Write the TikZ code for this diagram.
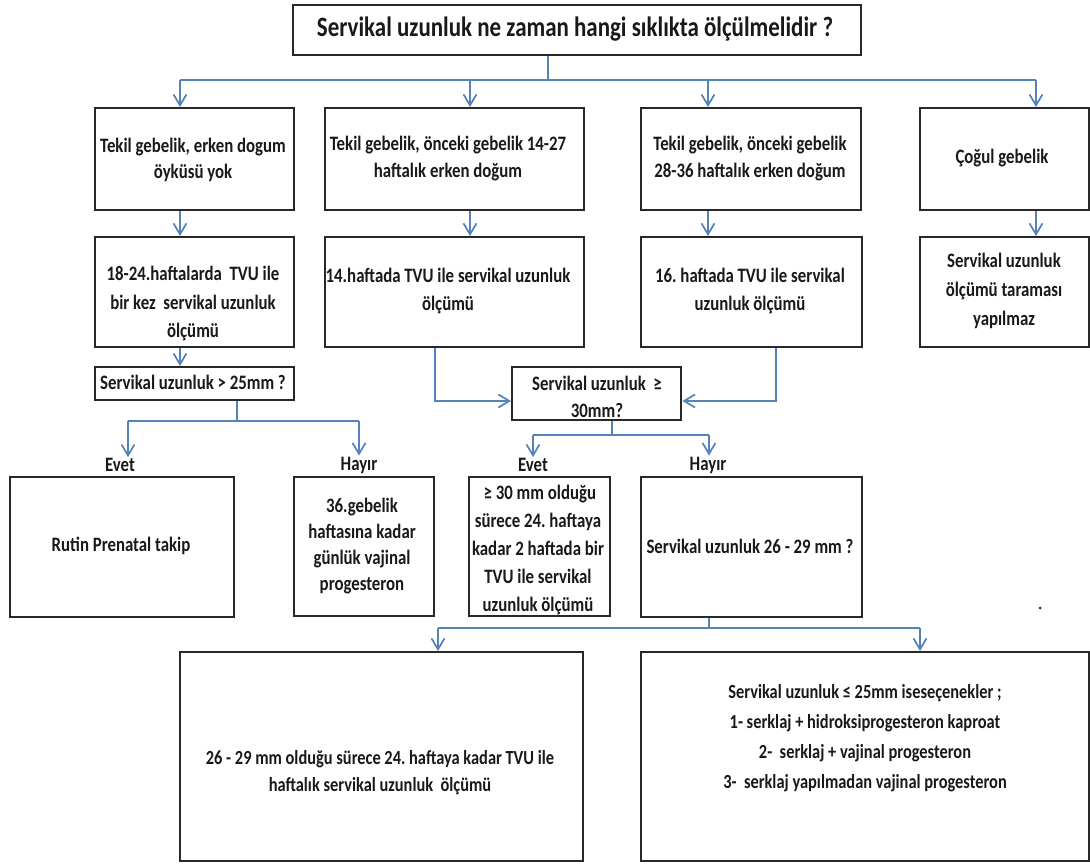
\documentclass[tikz,border=0pt]{standalone}
\usepackage{fontspec}
\setmainfont{Carlito}[FakeStretch=0.82]
\usetikzlibrary{arrows.meta}
\frenchspacing
\definecolor{boxc}{RGB}{40,40,40}
\definecolor{arrc}{RGB}{84,130,185}
\tikzset{
  box/.style={draw=boxc, line width=2.4pt, anchor=north west, inner sep=0pt},
  txt/.style={font=\bfseries\fontsize{20.5}{28}\selectfont, align=center, inner sep=0pt, text=black!90},
  lbl/.style={font=\bfseries\fontsize{20.5}{24}\selectfont, inner sep=1pt, text=black!90},
  ln/.style={draw=arrc, line width=1.7pt},
  arr/.style={ln, -{Straight Barb[length=11pt,width=13pt,line width=1.7pt]}},
}
\begin{document}
\begin{tikzpicture}[x=1pt,y=-1pt]
\useasboundingbox[fill=white] (0,0) rectangle (1090,863);

% boxes
\node[box, minimum width=568pt, minimum height=50pt] (T) at (292,4) {};
\node[box, minimum width=199pt, minimum height=102pt] (A) at (94,107) {};
\node[box, minimum width=259pt, minimum height=102pt] (B) at (324,107) {};
\node[box, minimum width=220pt, minimum height=102pt] (C) at (640,107) {};
\node[box, minimum width=169pt, minimum height=102pt] (D) at (919,107) {};
\node[box, minimum width=199pt, minimum height=110pt] (A2) at (94,236) {};
\node[box, minimum width=259pt, minimum height=110pt] (B2) at (324,236) {};
\node[box, minimum width=221pt, minimum height=110pt] (C2) at (640,236) {};
\node[box, minimum width=169pt, minimum height=110pt] (D2) at (919,236) {};
\node[box, minimum width=199pt, minimum height=33pt] (Q1) at (94,366) {};
\node[box, minimum width=169pt, minimum height=53pt] (Q2) at (511,366) {};
\node[box, minimum width=224pt, minimum height=140pt] (E) at (9,476) {};
\node[box, minimum width=140pt, minimum height=139pt] (F) at (293,476) {};
\node[box, minimum width=141pt, minimum height=139pt] (G) at (468,476) {};
\node[box, minimum width=221pt, minimum height=140pt] (H) at (640,476) {};
\node[box, minimum width=403pt, minimum height=209pt] (L) at (179,651) {};
\node[box, minimum width=448pt, minimum height=209pt] (R) at (640,651) {};

% texts
\node[txt, font=\bfseries\fontsize{28}{32}\selectfont] (tT) at (575,29) {Servikal uzunluk ne zaman hangi sıklıkta ölçülmelidir ?};
\node[txt, font=\bfseries\fontsize{20.5}{26}\selectfont] (tA) at (193,160) {Tekil gebelik, erken dogum\\öyküsü yok};
\node[txt, font=\bfseries\fontsize{20.5}{27}\selectfont] (tB) at (448,159) {Tekil gebelik, önceki gebelik 14-27\\haftalık erken doğum};
\node[txt, font=\bfseries\fontsize{20.5}{27}\selectfont] (tC) at (750,159) {Tekil gebelik, önceki gebelik\\28-36 haftalık erken doğum};
\node[txt] (tD) at (1002,158) {Çoğul gebelik};
\node[txt, font=\bfseries\fontsize{20.5}{28.5}\selectfont] (tA2) at (193,304) {18-24.haftalarda~ TVU ile\\bir kez~ servikal uzunluk\\ölçümü};
\node[txt] (tB2) at (448,291) {14.haftada TVU ile servikal uzunluk\\ölçümü};
\node[txt] (tC2) at (750,291) {16. haftada TVU ile servikal\\uzunluk ölçümü};
\node[txt, font=\bfseries\fontsize{20.5}{29}\selectfont] (tD2) at (1004,291) {Servikal uzunluk\\ölçümü taraması\\yapılmaz};
\node[txt] (tQ1) at (193,382) {Servikal uzunluk > 25mm ?};
\node[txt, font=\bfseries\fontsize{20.5}{27}\selectfont] (tQ2) at (597,397) {Servikal uzunluk~ ≥\\30mm?};
\node[txt] (tE) at (121,546) {Rutin Prenatal takip};
\node[txt, font=\bfseries\fontsize{20.5}{26}\selectfont] (tF) at (362,546) {36.gebelik\\haftasına kadar\\günlük vajinal\\progesteron};
\node[txt] (tG) at (538,550) {~≥ 30 mm olduğu\\sürece 24. haftaya\\kadar 2 haftada bir\\TVU ile servikal\\uzunluk ölçümü};
\node[txt] (tH) at (750,546) {Servikal uzunluk 26 - 29 mm ?};
\node[txt, font=\bfseries\fontsize{20}{27}\selectfont] (tL) at (380,773) {26 - 29 mm olduğu sürece 24. haftaya kadar TVU ile\\haftalık servikal uzunluk~ ölçümü};
\node[txt, font=\bfseries\fontsize{20}{30}\selectfont] (tR) at (865,738) {Servikal uzunluk ≤ 25mm iseseçenekler ;\\1- serklaj + hidroksiprogesteron kaproat\\2-~ serklaj + vajinal progesteron\\3-~ serklaj yapılmadan vajinal progesteron};

% branch labels
\node[lbl] (lE1) at (120,465) {Evet};
\node[lbl] (lH1) at (359,465) {Hayır};
\node[lbl] (lE2) at (533,465) {Evet};
\node[lbl] (lH2) at (708,465) {Hayır};

% junction coordinates
\coordinate (j0) at (548,80);
\coordinate (jA) at (180,80);
\coordinate (jB) at (470,80);
\coordinate (jC) at (708,80);
\coordinate (jD) at (1036,80);
\coordinate (k1) at (237,421);
\coordinate (kE) at (128,421);
\coordinate (kF) at (359,421);
\coordinate (mB) at (435,401);
\coordinate (mC) at (776,401);
\coordinate (k2) at (612,435);
\coordinate (kG) at (533,435);
\coordinate (kH) at (709,435);
\coordinate (k3) at (709,628);
\coordinate (kL) at (438,628);
\coordinate (kR) at (920,628);

% connectors
\draw[ln] (T.south -| j0) -- (j0);
\draw[ln] (jA) -- (jD);
\draw[arr] (jA) -- (jA |- A.north);
\draw[arr] (jB) -- (jB |- B.north);
\draw[arr] (jC) -- (jC |- C.north);
\draw[arr] (jD) -- (jD |- D.north);
\draw[arr] (jA |- A.south) -- (jA |- A2.north);
\draw[arr] (jB |- B.south) -- (jB |- B2.north);
\draw[arr] (jC |- C.south) -- (jC |- C2.north);
\draw[arr] (jD |- D.south) -- (jD |- D2.north);
\draw[arr] (jA |- A2.south) -- (jA |- Q1.north);

\draw[ln] (Q1.south -| k1) -- (k1);
\draw[ln] (kE) -- (kF);
\draw[arr] (kE) -- (kE |- lE1.north);
\draw[arr] (kF) -- (kF |- lH1.north);

\draw[arr] (B2.south -| mB) -- (mB) -- (Q2.west |- mB);
\draw[arr] (C2.south -| mC) -- (mC) -- (Q2.east |- mC);

\draw[ln] (Q2.south -| k2) -- (k2);
\draw[ln] (kG) -- (kH);
\draw[arr] (kG) -- (kG |- lE2.north);
\draw[arr] (kH) -- (kH |- lH2.north);

\draw[ln] (H.south -| k3) -- (k3);
\draw[ln] (kL) -- (kR);
\draw[arr] (kL) -- (kL |- L.north);
\draw[arr] (kR) -- (kR |- R.north);

% stray dot
\fill[boxc] (1040,608) circle (1.5pt);
\end{tikzpicture}
\end{document}
